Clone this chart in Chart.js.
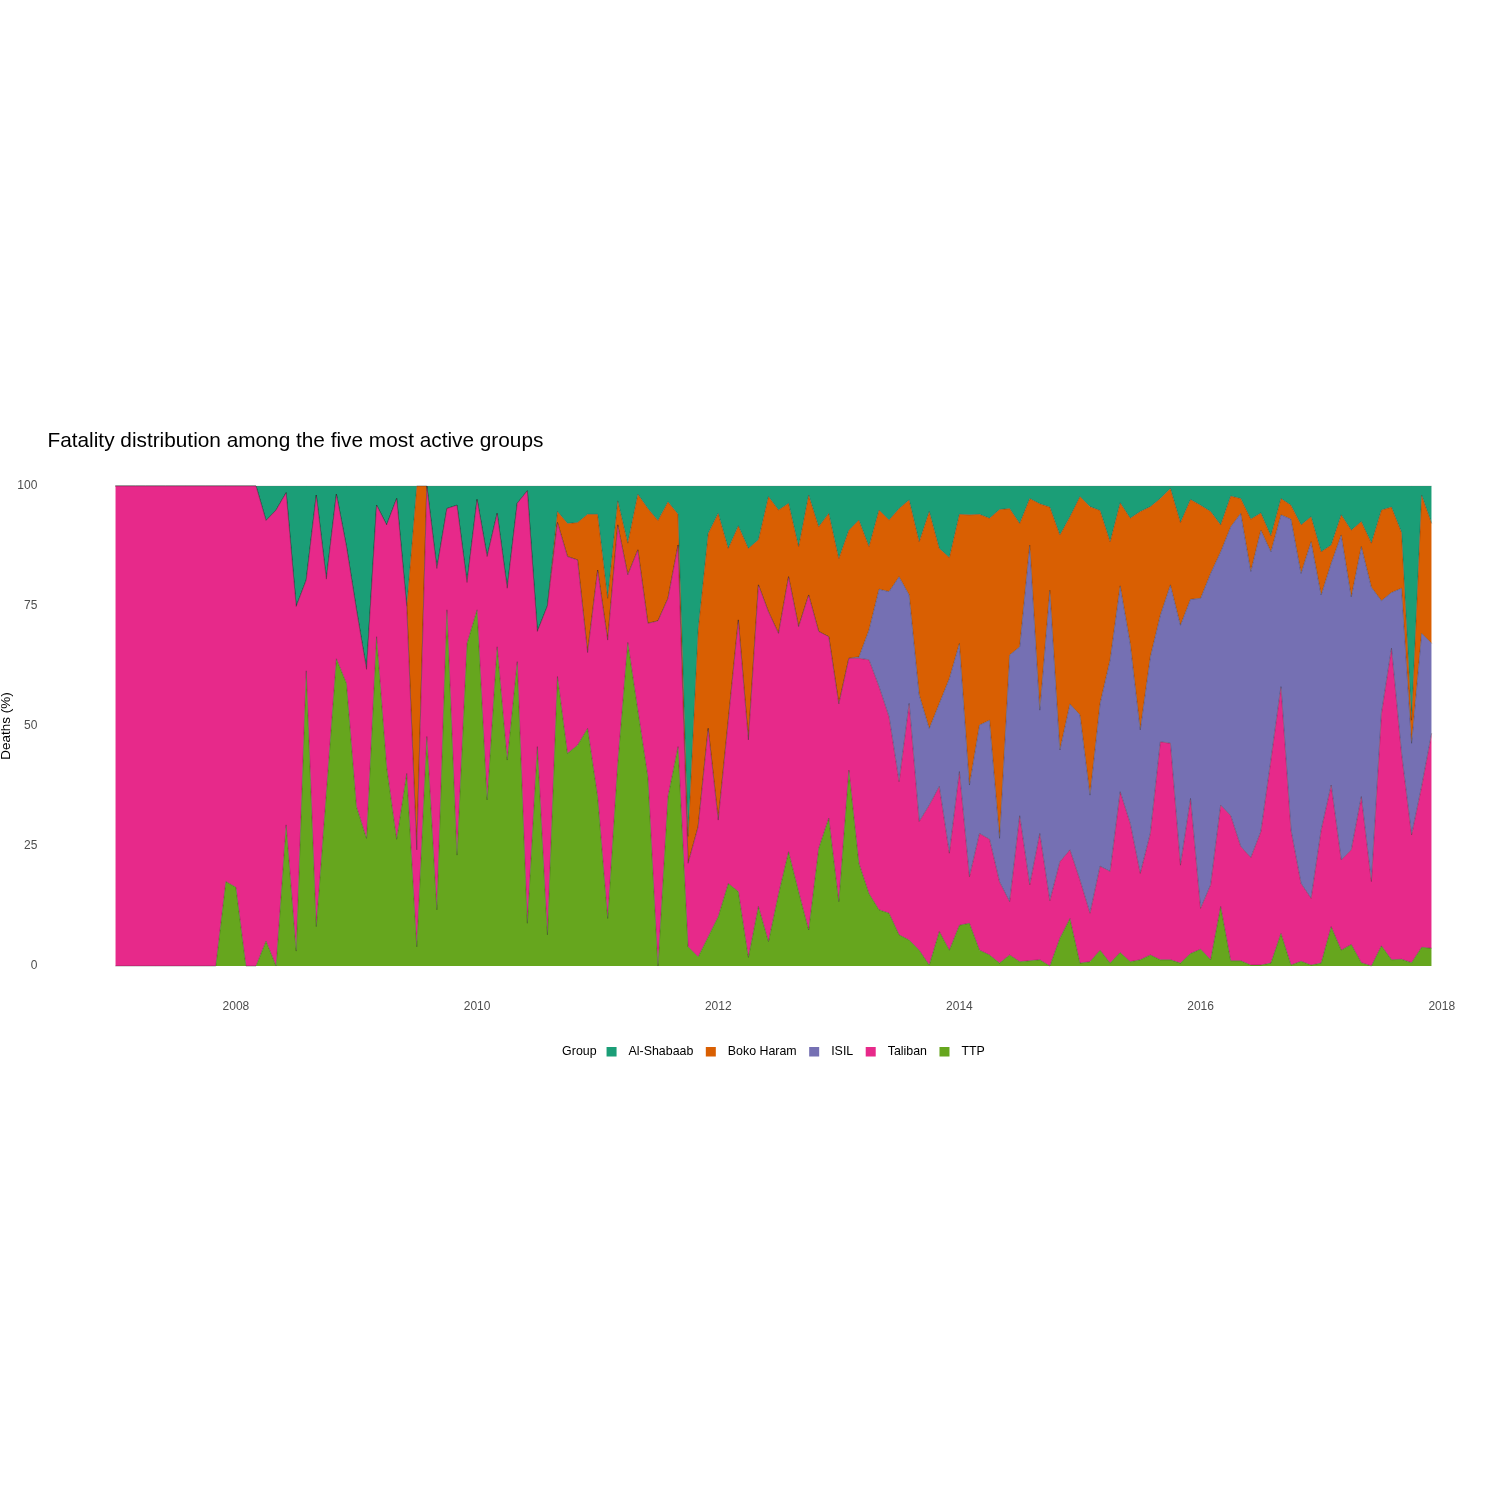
<!DOCTYPE html>
<html>
<head>
<meta charset="utf-8">
<script src="https://cdn.jsdelivr.net/npm/chart.js@4.4.0/dist/chart.umd.min.js"></script>
<style>html,body{margin:0;padding:0;background:#fff}canvas{display:block}</style>
</head>
<body>
<canvas id="c" width="1500" height="1500"></canvas>
<script>
// ---- categories: monthly, Jan 2007 .. Dec 2017 ----
const firstYear = 2007;
const lastYear = 2017;
const months = [];
for (let y = firstYear; y <= lastYear; y++) {
  for (let m = 1; m <= 12; m++) months.push(y + '-' + String(m).padStart(2, '0'));
}

const groups = ['Al-Shabaab', 'Boko Haram', 'ISIL', 'Taliban', 'TTP'];
const groupColors = ['#1B9E77', '#D95F02', '#7570B3', '#E7298A', '#66A61E'];

// ---- series values (% of deaths), one row per year ----
const ttp = [
  0,0,0,0,0,0,0,0,0,0,0,17.6,
  16.4,0,0,5.2,0,29.4,3.1,61.5,8.2,36,64,58.9,
  33.2,26.6,68.6,41.5,26.4,40.1,4,47.8,11.7,74.2,23.1,67.2,
  74.2,34.6,66.5,42.9,63.4,8.9,45.7,6.5,60.3,44.3,46,49.5,
  35.3,9.9,42.2,67.4,53.3,39.4,0,35.3,45.7,4,1.9,6.1,
  10.3,17.2,15.5,1.8,12.4,5.1,15,23.8,15.5,7.5,24.5,30.8,
  13.4,40.8,21.4,15.1,11.7,11,6.5,5.4,3.3,0.2,7.2,3.3,
  8.5,8.9,3.3,2.3,0.6,2.3,0.9,1.1,1.3,0,5.8,9.9,
  0.6,0.9,3.3,0.6,2.8,0.9,1.3,2.3,1.3,1.3,0.6,2.6,
  3.5,1.3,12.4,1.1,1.1,0.2,0.2,0.6,6.8,0.2,1,0.2,
  0.6,8.2,3.3,4.5,0.7,0,4.2,1.3,1.4,0.7,3.9,3.7
];
const taliban = [
  100,100,100,100,100,100,100,100,100,100,100,82.4,
  83.6,100,100,87.6,95,69.2,71.8,18.9,89.9,44.6,34.3,28.5,
  41,35.2,27.4,50.4,71,34.8,20.2,52.2,71.1,21.1,72.9,12.7,
  23,50.7,27.8,35.8,33,90.1,24,68.5,32.1,41,38.6,15.8,
  47.2,58,49.7,14.1,33.4,32,71.9,41.3,42,17.4,27.1,43.4,
  20.1,34,56.6,45.3,67,68.7,54.3,57.3,55.2,69.8,45.2,37.8,
  41.2,23.3,42.7,48.7,46.5,40.9,31.9,49.3,26.8,33.3,30.2,20.2,
  32,9.7,24.3,24.1,16.9,11.1,30.4,15.8,26.3,13.6,15.9,14.3,
  17.3,10.1,17.5,19.1,33.5,28.8,18,25.3,45.4,45.1,20.4,32.3,
  8.5,15.6,21.1,30.2,23.8,22.4,27.8,42.3,51.4,28.1,16.2,13.9,
  27.7,29.5,18.8,19.7,34.6,17.6,48.4,64.9,42.9,26.6,33.5,44.8
];
const isil = [
  0,0,0,0,0,0,0,0,0,0,0,0,
  0,0,0,0,0,0,0,0,0,0,0,0,
  0,0,0,0,0,0,0,0,0,0,0,0,
  0,0,0,0,0,0,0,0,0,0,0,0,
  0,0,0,0,0,0,0,0,0,0,0,0,
  0,0,0,0,0,0,0,0,0,0,0,0,
  0,0,0.3,6.2,20.3,26.1,42.7,22.6,26.4,16,17.3,36.4,
  26.7,19.1,22.6,24.8,9.1,51.4,35.2,70.8,25.7,64.7,23.3,30.4,
  34.4,24.6,33.9,44.1,42.9,37.5,29.9,36.8,26.4,33,50,41.5,
  64.6,64.9,52.8,60.2,69.4,59.6,62.8,43.4,35.8,64.8,64.6,74.3,
  49,46.2,67.7,52.7,52.1,61.3,23.5,11.6,34.4,19.1,31.9,18.7
];
const bokoHaram = [
  0,0,0,0,0,0,0,0,0,0,0,0,
  0,0,0,0,0,0,0,0,0,0,0,0,
  0,0,0,0,0,0,75.8,0,0,0,0,0,
  0,0,0,0,0,0,0,0,2.3,6.9,7.8,28.8,
  11.6,8.7,5,6.6,11.6,23.9,20.9,20.1,6.4,5.6,41,40.6,
  63.9,35.8,19.6,39.9,9.4,24,25.7,15.3,16.7,20.8,21.8,25.7,
  30.3,26.7,28.5,17.4,16.5,14.9,14.2,19.8,31.9,45.2,32.3,25.2,
  26.9,56.3,43.9,42.1,68.5,30.5,25.7,9.7,43,17.3,44.8,39,
  45.5,60.1,40.2,24.6,17.3,26.1,45.5,31.3,24.3,20.1,21.4,20.8,
  19.4,12.9,5.6,6.4,3.1,10.9,3.6,3.3,3.4,2.9,10.1,5.2,
  9,3.8,4.2,13.9,5.2,9.2,18.9,17.8,11.6,4.8,28.8,25
];
const alShabaab = [
  0,0,0,0,0,0,0,0,0,0,0,0,
  0,0,0,7.2,5,1.4,25.1,19.6,1.9,19.4,1.7,12.6,
  25.8,38.2,4,8.1,2.6,25.1,0,0,17.2,4.7,4,20.1,
  2.8,14.7,5.7,21.3,3.6,1,30.3,25,5.3,7.8,7.6,5.9,
  5.9,23.4,3.1,11.9,1.7,4.7,7.2,3.3,5.9,73,30,9.9,
  5.7,13,8.3,13,11.2,2.2,5,3.6,12.6,1.9,8.5,5.7,
  15.1,9.2,7.1,12.6,5,7.1,4.7,2.9,11.6,5.3,13,14.9,
  5.9,6,5.9,6.7,4.9,4.7,7.8,2.6,3.7,4.4,10.2,6.4,
  2.2,4.3,5.1,11.6,3.5,6.7,5.3,4.3,2.6,0.5,7.6,2.8,
  4,5.3,8.1,2.1,2.6,6.9,5.6,10.4,2.6,4,8.1,6.4,
  13.7,12.3,6,9.2,7.4,11.9,5,4.4,9.7,48.8,1.9,7.8
];

const xTicks = [2008, 2010, 2012, 2014, 2016, 2018];
const yTicks = [0, 25, 50, 75, 100];
const titleText = 'Fatality distribution among the five most active groups';
const yTitle = 'Deaths (%)';
const legendTitle = 'Group';

// month label -> decimal year
const toX = s => { const [y, m] = s.split('-').map(Number); return y + (m - 1) / 12; };
const xs = months.map(toX);
const xMinData = xs[0], xMaxData = xs[xs.length - 1];
const xPad = (xMaxData - xMinData) * 0.05;

const seriesByGroup = {
  'TTP': ttp, 'Taliban': taliban, 'ISIL': isil, 'Boko Haram': bokoHaram, 'Al-Shabaab': alShabaab
};
const stackOrder = ['TTP', 'Taliban', 'ISIL', 'Boko Haram', 'Al-Shabaab']; // bottom -> top

const datasets = stackOrder.map((g, k) => ({
  label: g,
  data: seriesByGroup[g].map((v, i) => ({ x: xs[i], y: v })),
  backgroundColor: groupColors[groups.indexOf(g)],
  borderColor: g === 'Al-Shabaab' ? 'rgba(110,110,110,0.35)' : 'rgba(35,35,35,0.55)',
  borderWidth: 0.6,
  pointRadius: 0,
  tension: 0,
  fill: k === 0 ? 'origin' : '-1'
}));

const FONT = '"Liberation Sans", Arial, Helvetica, sans-serif';

const decor = {
  id: 'decor',
  afterDraw(chart) {
    const ctx = chart.ctx, ca = chart.chartArea;
    ctx.save();
    // title
    ctx.fillStyle = '#000';
    ctx.font = '20.8px ' + FONT;
    ctx.textAlign = 'left';
    ctx.textBaseline = 'alphabetic';
    ctx.fillText(titleText, 47.5, 447);
    // y axis title
    ctx.save();
    ctx.translate(6, (ca.top + ca.bottom) / 2);
    ctx.rotate(-Math.PI / 2);
    ctx.font = '13.5px ' + FONT;
    ctx.textAlign = 'center';
    ctx.textBaseline = 'middle';
    ctx.fillText(yTitle, 0, 0);
    ctx.restore();
    // legend
    ctx.font = '12.4px ' + FONT;
    ctx.textBaseline = 'middle';
    ctx.textAlign = 'left';
    const box = 10, gapTitle = 10, gapBoxText = 12, gapItem = 12.5;
    let total = ctx.measureText(legendTitle).width + gapTitle;
    groups.forEach((g, i) => {
      total += box + gapBoxText + ctx.measureText(g).width + (i < groups.length - 1 ? gapItem : 0);
    });
    let x = (ca.left + ca.right) / 2 - total / 2;
    const yMid = 1051.5;
    ctx.fillStyle = '#000';
    ctx.fillText(legendTitle, x, yMid);
    x += ctx.measureText(legendTitle).width + gapTitle;
    groups.forEach((g, i) => {
      ctx.fillStyle = groupColors[i];
      ctx.fillRect(x, yMid - 4.5, box, 9.5);
      x += box + gapBoxText;
      ctx.fillStyle = '#000';
      ctx.fillText(g, x, yMid);
      x += ctx.measureText(g).width + gapItem;
    });
    ctx.restore();
  }
};

new Chart(document.getElementById('c'), {
  type: 'line',
  data: { datasets },
  options: {
    responsive: false,
    animation: false,
    devicePixelRatio: 1,
    layout: { padding: { left: 0, right: 2.5, top: 462, bottom: 480 } },
    plugins: { legend: { display: false }, tooltip: { enabled: false }, title: { display: false } },
    elements: { line: { borderJoinStyle: 'miter' } },
    scales: {
      x: {
        type: 'linear',
        min: xMinData - xPad,
        max: xMaxData + xPad,
        grid: { display: false, drawTicks: false },
        border: { display: false },
        afterBuildTicks: s => { s.ticks = xTicks.map(v => ({ value: v })); },
        afterFit: s => { s.height = 30; },
        ticks: {
          padding: 9,
          color: '#4D4D4D',
          font: { family: FONT, size: 12 },
          maxRotation: 0,
          autoSkip: false,
          callback: v => String(v)
        }
      },
      y: {
        type: 'linear',
        stacked: true,
        min: -5,
        max: 105,
        grid: { display: false, drawTicks: false },
        border: { display: false },
        afterBuildTicks: s => { s.ticks = yTicks.map(v => ({ value: v })); },
        afterFit: s => { s.width = 49.5; },
        ticks: {
          padding: 12.2,
          color: '#4D4D4D',
          font: { family: FONT, size: 12 },
          callback: v => String(v)
        }
      }
    }
  },
  plugins: [decor]
});
</script>
</body>
</html>
